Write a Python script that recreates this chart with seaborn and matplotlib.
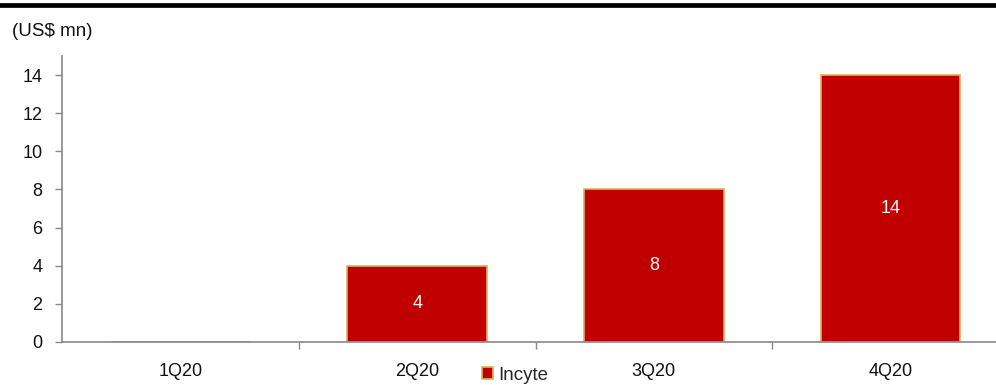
import matplotlib
matplotlib.use("Agg")
import matplotlib.pyplot as plt
import seaborn as sns
import pandas as pd
from matplotlib.lines import Line2D
from matplotlib.patches import Patch

quarters = ["1Q20", "2Q20", "3Q20", "4Q20"]
incyte = [0, 4, 8, 14]
series_name = "Incyte"
y_ticks = [0, 2, 4, 6, 8, 10, 12, 14]

sns.set_theme(style="white")
plt.rcParams['font.family'] = ['Liberation Sans', 'DejaVu Sans']

df = pd.DataFrame({"quarter": quarters, "value": incyte})

fig = plt.figure(figsize=(9.96, 3.85), dpi=100)
ax = fig.add_axes([62/996, 43/385, 947/996, 286/385])

red = "#C00000"
gold = "#D9B35A"
txt = "#111111"
sns.barplot(data=df, x="quarter", y="value", ax=ax, color=red, width=0.59,
            edgecolor=gold, linewidth=1.2, saturation=1)

for i, v in enumerate(incyte):
    if v > 0:
        ax.text(i, v / 2, str(v), ha="center", va="center", color="white", fontsize=13)

ax.set_xlim(-0.5, 3.5)
ax.set_ylim(0, 15)
ax.set_yticks(y_ticks)
ax.set_yticklabels([str(t) for t in y_ticks], fontsize=13, color=txt)
ax.set_xticks(range(len(quarters)))
ax.set_xticklabels(quarters, fontsize=13, color=txt)
ax.set_xticks([0.5, 1.5, 2.5], minor=True)
ax.tick_params(axis="x", which="major", length=0, pad=15)
ax.tick_params(axis="x", which="minor", length=5, width=1, color="#888888", direction="out", bottom=True)
ax.tick_params(axis="y", length=5, width=1, color="#888888", direction="out", left=True, pad=9)
ax.set_xlabel("")
ax.set_ylabel("")
for s in ["top", "right"]:
    ax.spines[s].set_visible(False)
for s in ["left", "bottom"]:
    ax.spines[s].set_color("#888888")
    ax.spines[s].set_linewidth(1.2)

handles = [Patch(facecolor=red, edgecolor=gold, linewidth=1.2, label=series_name)]
fig.legend(handles=handles, loc="center", bbox_to_anchor=(515/996, 1 - 375.5/385),
           frameon=False, fontsize=13.5, handlelength=0.6, handleheight=0.6,
           handletextpad=0.3, borderpad=0)

fig.text(12/996, 1 - 31/385, "(US$ mn)", fontsize=13.5, color=txt, va="center")
fig.add_artist(Line2D([0, 1], [1 - 5/385, 1 - 5/385], transform=fig.transFigure,
                      color="black", linewidth=3.4))

fig.savefig("out.png", dpi=100)
